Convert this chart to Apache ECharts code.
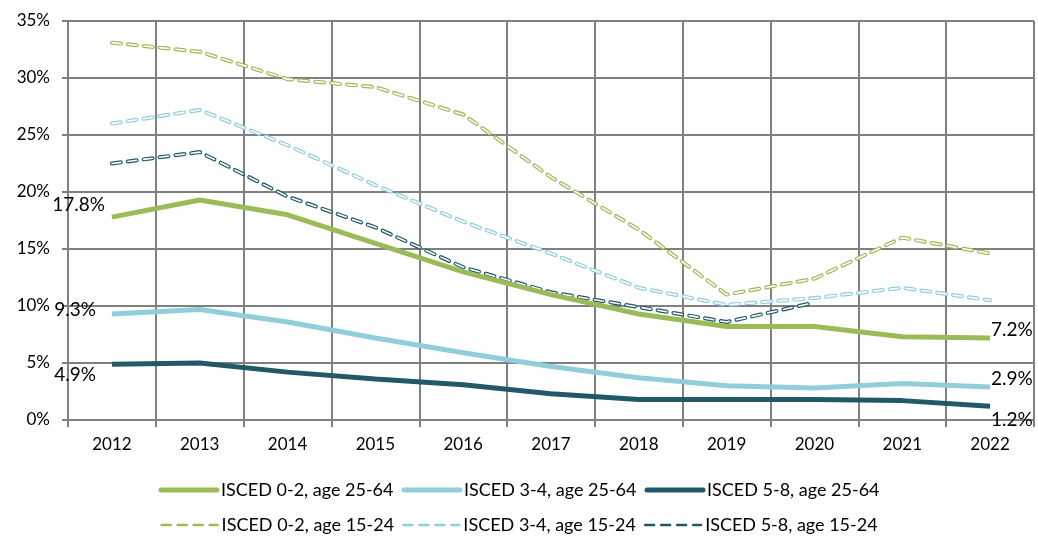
<!DOCTYPE html>
<html><head><meta charset="utf-8">
<script src="https://cdn.jsdelivr.net/npm/echarts@6/dist/echarts.min.js"></script>
<style>html,body{margin:0;padding:0;background:#fff}#c{width:1038px;height:552px}</style>
</head><body><div id="c"></div>
<script>
const years = ['2012','2013','2014','2015','2016','2017','2018','2019','2020','2021','2022'];
const isced02_2564 = [17.8,19.3,18.0,15.5,13.0,11.0,9.3,8.2,8.2,7.3,7.2];
const isced34_2564 = [9.3,9.7,8.6,7.2,5.9,4.7,3.7,3.0,2.8,3.2,2.9];
const isced58_2564 = [4.9,5.0,4.2,3.6,3.1,2.3,1.8,1.8,1.8,1.7,1.2];
const isced02_1524 = [33.1,32.3,29.9,29.2,26.8,21.3,16.7,11.0,12.4,16.0,14.6];
const isced34_1524 = [26.0,27.2,24.1,20.6,17.4,14.6,11.6,10.1,10.7,11.6,10.5];
const isced58_1524 = [22.5,23.5,19.6,16.9,13.4,11.2,9.9,8.6,10.3,null,null];
const yTicks = [0,5,10,15,20,25,30,35];
const names = ['ISCED 0-2, age 25-64','ISCED 3-4, age 25-64','ISCED 5-8, age 25-64','ISCED 0-2, age 15-24','ISCED 3-4, age 15-24','ISCED 5-8, age 15-24'];
const colors = ['#9BBB59','#92CDDC','#215968'];
const font = 'Lato, "Open Sans", sans-serif';

function labelled(arr, firstOff, lastOff) {
  return arr.map((v,i)=>{
    if (i===0) return {value:v, label:{show:true, position:'left', offset:firstOff, formatter:v.toFixed(1)+'%'}};
    if (i===arr.length-1) return {value:v, label:{show:true, position:'right', offset:lastOff, formatter:v.toFixed(1)+'%'}};
    return {value:v, label:{show:false}};
  });
}
const lblStyle = {show:false, fontFamily:font, fontSize:19, color:'#000', opacity:1};
function solid(name, data, color) {
  return {name, type:'line', data, symbol:'circle', symbolSize:2, showSymbol:true, z:5,
    lineStyle:{width:5, color}, itemStyle:{color:'rgba(0,0,0,0)', borderWidth:0}, label:lblStyle, animation:false};
}
function dashed(name, data, color) {
  return {name, type:'line', data, symbol:'none', showSymbol:false, z:3,
    lineStyle:{width:4, color, type:[9,7], cap:'round'}, itemStyle:{color}, animation:false};
}
function inner(data) {
  return {name:'_inner', type:'line', data, symbol:'none', showSymbol:false, z:4,
    lineStyle:{width:1.6, color:'#ffffff', type:[9,7], cap:'round'}, silent:true, animation:false};
}
const gray = '#808080';
function legendBase(extra) {
  return Object.assign({left:'center', itemWidth:56, itemHeight:14, itemGap:8,
    itemStyle:{opacity:0},
    textStyle:{fontFamily:font, fontSize:18, color:'#000', padding:[0,0,0,-1]}}, extra);
}
const opt = {
  animation:false,
  grid:{left:68, right:4, top:21, bottom:132, containLabel:false},
  legend:[
    legendBase({data:names.slice(0,3), top:476, lineStyle:{width:5, cap:'round'}}),
    legendBase({data:names.slice(3), top:511, lineStyle:{width:2.5}})
  ],
  xAxis:{type:'category', data:years, boundaryGap:true,
    axisLine:{lineStyle:{color:gray, width:2}},
    axisTick:{show:true, length:7, lineStyle:{color:gray, width:2}},
    splitLine:{show:true, lineStyle:{color:gray, width:2}},
    axisLabel:{fontFamily:font, fontSize:17, color:'#000', margin:16}},
  yAxis:{type:'value', min:0, max:35, interval:5,
    axisLine:{show:true, lineStyle:{color:gray, width:2}},
    axisTick:{show:true, length:6, lineStyle:{color:gray, width:2}},
    splitLine:{show:true, lineStyle:{color:gray, width:2}},
    axisLabel:{fontFamily:font, fontSize:17, color:'#000', margin:18, formatter: v=> yTicks.includes(v)? v+'%':''}},
  series:[
    solid(names[0], labelled(isced02_2564,[-1,-12],[-5,-8]), colors[0]),
    solid(names[1], labelled(isced34_2564,[-10,-4],[-5,-8]), colors[1]),
    solid(names[2], labelled(isced58_2564,[-10,11],[-5,14]), colors[2]),
    dashed(names[3], isced02_1524, colors[0]),
    dashed(names[4], isced34_1524, colors[1]),
    dashed(names[5], isced58_1524, colors[2]),
    inner(isced02_1524), inner(isced34_1524), inner(isced58_1524)
  ]
};
const chart = echarts.init(document.getElementById('c'), null, {renderer:'canvas'});
chart.setOption(opt);
</script></body></html>
